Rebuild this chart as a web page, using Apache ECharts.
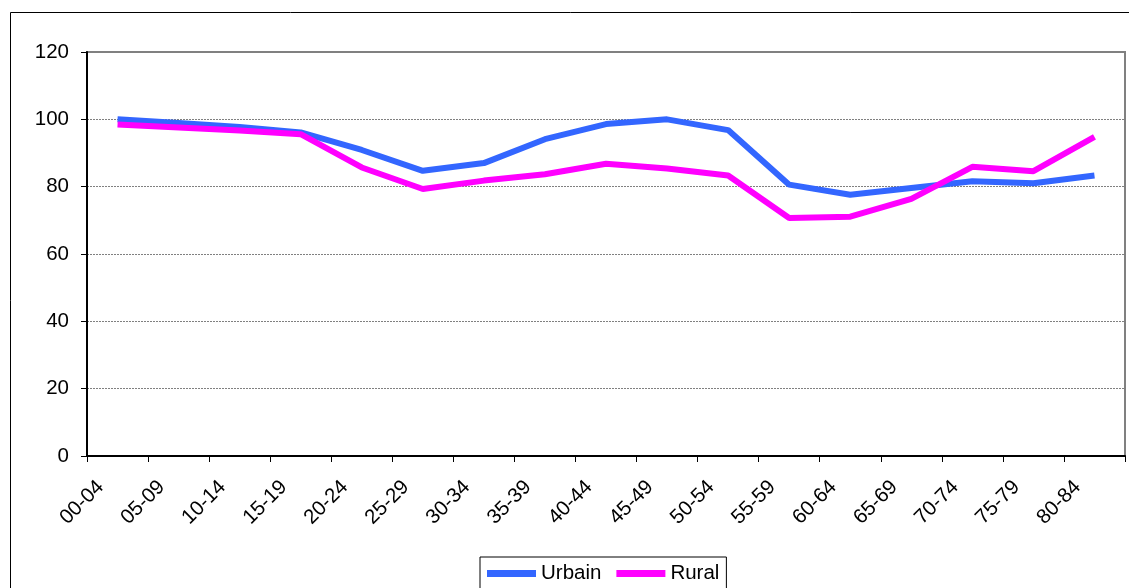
<!DOCTYPE html>
<html>
<head>
<meta charset="utf-8">
<script src="https://cdn.jsdelivr.net/npm/echarts@6/dist/echarts.min.js"></script>
<style>
  html, body { margin: 0; padding: 0; background: #fff; }
  #chart { width: 1129px; height: 588px; }
</style>
</head>
<body>
<div id="chart"></div>
<script>
// age groups
const categories = ["00-04", "05-09", "10-14", "15-19", "20-24", "25-29", "30-34", "35-39",
  "40-44", "45-49", "50-54", "55-59", "60-64", "65-69", "70-74", "75-79", "80-84"];
const urbain = [100, 98.9, 97.7, 96.1, 90.9, 84.7, 87.0, 94.1, 98.6, 100.0, 96.8, 80.6, 77.6, 79.6, 81.6, 81.0, 83.3];
const rural = [98.5, 97.6, 96.7, 95.6, 85.7, 79.3, 81.8, 83.7, 86.8, 85.4, 83.3, 70.7, 71.1, 76.4, 85.9, 84.6, 94.8];
const yTicks = { min: 0, max: 120, step: 20 };

const font = "Liberation Sans, Arial, sans-serif";
const fs = 20.5;
const chart = echarts.init(document.getElementById("chart"));

const option = {
  animation: false,
  backgroundColor: "#fff",
  textStyle: { fontFamily: font, color: "#000" },
  graphic: [
    {
      // outer frame, only top and left show inside the picture
      type: "rect",
      shape: { x: 10.5, y: 12.5, width: 1200, height: 700 },
      style: { fill: "none", stroke: "#000", lineWidth: 1 },
      silent: true,
    },
  ],
  grid: {
    left: 87,
    right: 4,
    top: 52,
    bottom: 132,
    show: true,
    borderColor: "#808080",
    borderWidth: 2,
    backgroundColor: "#fff",
  },
  legend: {
    left: 480,
    top: 557,
    padding: [6, 7, 12, 7],
    borderColor: "#000",
    borderWidth: 1,
    itemWidth: 49,
    itemHeight: 7,
    itemGap: 15,
    icon: "rect",
    textStyle: { fontFamily: font, fontSize: fs, color: "#000" },
    data: ["Urbain", "Rural"],
  },
  xAxis: {
    type: "category",
    data: categories,
    boundaryGap: true,
    axisLine: { lineStyle: { color: "#000", width: 2 } },
    axisTick: { show: true, length: 6, lineStyle: { color: "#000" } },
    axisLabel: {
      interval: 0,
      rotate: 45,
      margin: 11,
      padding: [0, 24, 0, 0],
      fontSize: fs,
      fontFamily: font,
      color: "#000",
    },
    splitLine: { show: false },
  },
  yAxis: {
    type: "value",
    min: yTicks.min,
    max: yTicks.max,
    interval: yTicks.step,
    axisLine: { show: true, lineStyle: { color: "#000", width: 2 } },
    axisTick: { show: true, length: 6, lineStyle: { color: "#000" } },
    axisLabel: { margin: 18, fontSize: fs, fontFamily: font, color: "#000" },
    splitLine: { show: true, lineStyle: { color: "#808080", width: 1, type: [2, 1] } },
  },
  series: [
    {
      name: "Urbain",
      type: "line",
      data: urbain,
      symbol: "none",
      color: "#3366FF",
      lineStyle: { width: 6, color: "#3366FF" },
    },
    {
      name: "Rural",
      type: "line",
      data: rural,
      symbol: "none",
      color: "#FF00FF",
      lineStyle: { width: 6, color: "#FF00FF" },
    },
  ],
};

chart.setOption(option);
</script>
</body>
</html>
